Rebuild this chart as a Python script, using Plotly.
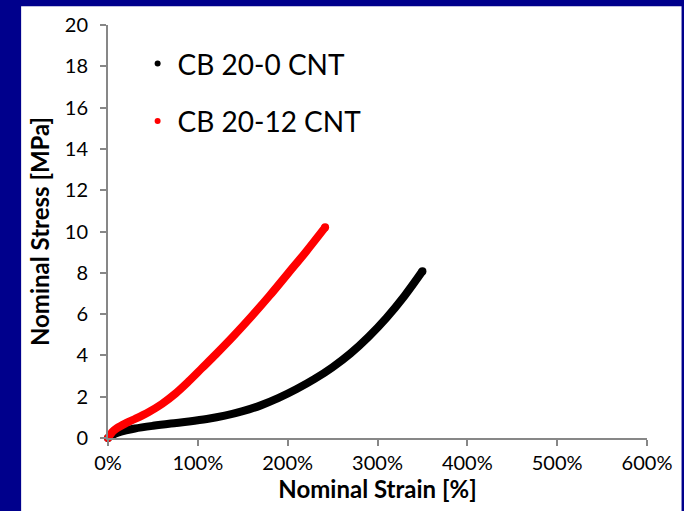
import plotly.graph_objects as go

# Data (strain in %, stress in MPa)
strain_cb20_0 = [0, 5, 10, 20, 30, 50, 70, 90, 110, 130, 150, 170, 190, 210, 230, 250, 270, 290, 310, 330, 350]
stress_cb20_0 = [0, 0.14, 0.24, 0.37, 0.46, 0.59, 0.70, 0.80, 0.92, 1.08, 1.30, 1.58, 1.94, 2.37, 2.86, 3.43, 4.10, 4.90, 5.82, 6.88, 8.08]

strain_cb20_12 = [0, 5, 10, 20, 30, 45, 60, 75, 90, 105, 120, 140, 160, 180, 200, 220, 241.7]
stress_cb20_12 = [0, 0.30, 0.48, 0.72, 0.92, 1.25, 1.65, 2.15, 2.75, 3.40, 4.05, 4.95, 5.90, 6.90, 7.95, 9.00, 10.2]

series_names = ["CB 20-0 CNT", "CB 20-12 CNT"]
series_colors = ["#000000", "#FF0000"]

x_ticks = [0, 100, 200, 300, 400, 500, 600]
x_ticklabels = ["0%", "100%", "200%", "300%", "400%", "500%", "600%"]
y_ticks = [0, 2, 4, 6, 8, 10, 12, 14, 16, 18, 20]

FONT = "Lato"
NAVY = "#00008C"
AXIS_GRAY = "#878787"

fig = go.Figure()

datasets = [(strain_cb20_0, stress_cb20_0), (strain_cb20_12, stress_cb20_12)]
for (xs, ys), name, col in zip(datasets, series_names, series_colors):
    fig.add_trace(go.Scatter(
        x=xs, y=ys, mode="lines", name=name,
        line=dict(color=col, width=8, shape="spline", smoothing=1.0),
        showlegend=False, hoverinfo="skip", cliponaxis=False,
    ))
    # round end caps
    fig.add_trace(go.Scatter(
        x=[xs[0], xs[-1]], y=[ys[0], ys[-1]], mode="markers",
        marker=dict(color=col, size=8), showlegend=False,
        hoverinfo="skip", cliponaxis=False,
    ))

# legend-only entries (small dots, like the reference)
for i, (name, col) in enumerate(zip(series_names, series_colors)):
    fig.add_trace(go.Scatter(
        x=[None], y=[None], mode="markers", name=name,
        marker=dict(color=col, size=6),
        legendgroup=f"g{i}", showlegend=True,
    ))

W, H = 684, 511
L, R, T, B = 108, 30, 22, 73
pw, ph = W - L - R, H - T - B

fig.update_layout(
    width=W, height=H,
    margin=dict(l=L, r=R, t=T, b=B, pad=0),
    paper_bgcolor=NAVY,
    plot_bgcolor="white",
    font=dict(family=FONT, color="black"),
    shapes=[dict(
        type="rect", xref="paper", yref="paper", layer="below",
        x0=(20 - L) / pw, x1=(W - L + 5) / pw,
        y0=-(B + 5) / ph, y1=1 + (T - 3) / ph,
        fillcolor="white", line=dict(width=0),
    )],
    legend=dict(
        x=(138 - L) / pw, y=1 - (36 - T) / ph, xanchor="left", yanchor="top",
        bgcolor="rgba(0,0,0,0)", font=dict(family=FONT, size=28, color="black"),
        traceorder="grouped", tracegroupgap=18, itemwidth=30,
    ),
    xaxis=dict(
        range=[0, 600], tickvals=x_ticks, ticktext=x_ticklabels,
        showgrid=False, zeroline=False, showline=True, linecolor=AXIS_GRAY, linewidth=2,
        ticks="outside", ticklen=6, tickcolor=AXIS_GRAY, tickwidth=1.5,
        tickfont=dict(family=FONT, size=20, color="black"),
        title=dict(text="<b>Nominal Strain [%]</b>", font=dict(family=FONT, size=24, color="black"), standoff=8),
        fixedrange=True,
    ),
    yaxis=dict(
        range=[0, 20], tickvals=y_ticks,
        showgrid=False, zeroline=False, showline=True, linecolor=AXIS_GRAY, linewidth=2,
        ticks="outside", ticklen=6, tickcolor=AXIS_GRAY, tickwidth=1.5,
        ticklabelstandoff=8,
        tickfont=dict(family=FONT, size=20, color="black"),
        title=dict(text="<b>Nominal Stress [MPa]</b>", font=dict(family=FONT, size=24, color="black"), standoff=8),
        fixedrange=True,
    ),
)

fig.write_html("out.html")
